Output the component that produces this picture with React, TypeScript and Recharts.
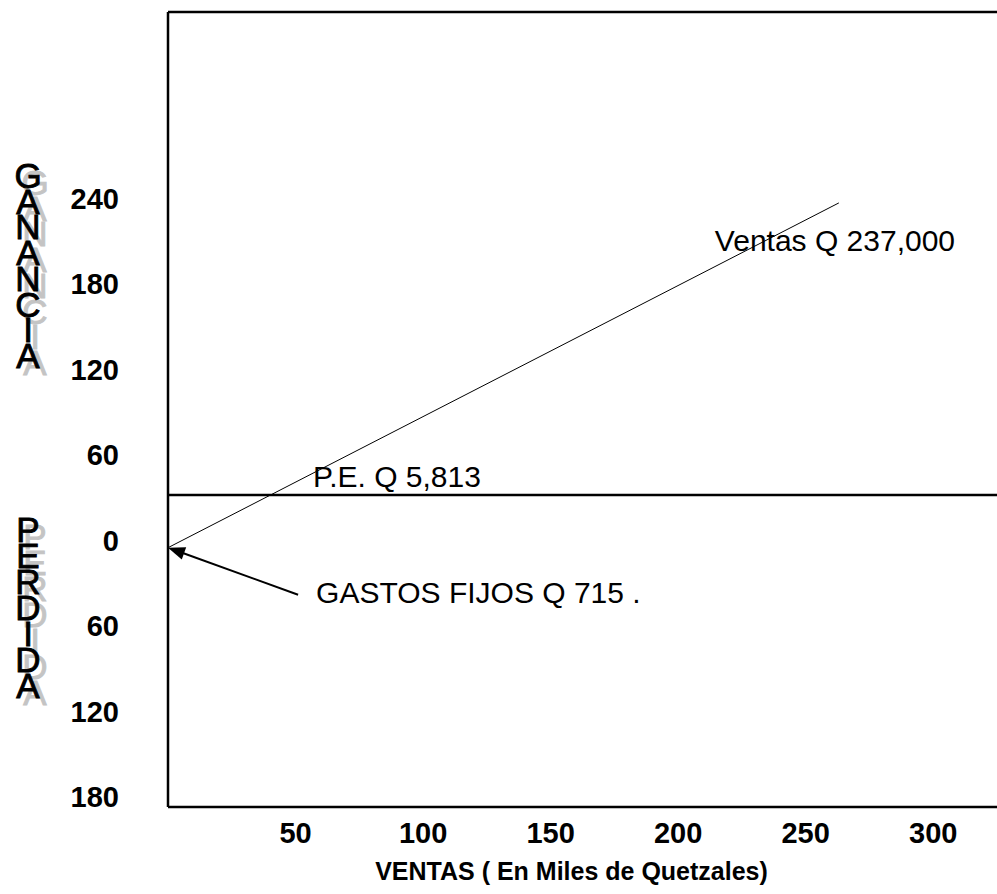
import React from 'react';
import { LineChart, Line, XAxis, YAxis, ReferenceLine, ReferenceDot, Label } from 'recharts';

const FONT = '"Liberation Sans", Arial, Helvetica, sans-serif';

// Sales line (thousands of quetzales): x = ventas, y = resultado
const ventasX = [0, 263];
const ventasY = [-5, 237];
const xTicks = [50, 100, 150, 200, 250, 300];
const yTicks = [240, 180, 120, 60, 0, -60, -120, -180];
const xDomain: [number, number] = [0, 325];
const yDomain: [number, number] = [-187, 371];
const peLevel = 32;
const gastosFrom = { x: 51, y: -38 };
const gastosTo = { x: 0, y: -5 };

const peText = 'P.E. Q 5,813';
const ventasText = 'Ventas Q 237,000';
const gastosText = 'GASTOS FIJOS Q 715 .';
const gananciaWord = 'GANANCIA';
const perdidaWord = 'PERDIDA';
const xAxisTitle = 'VENTAS ( En Miles de Quetzales)';

const lineData = ventasX.map((v, i) => ({ ventas: v, resultado: ventasY[i] }));

const StackedWord = ({ word, x, y0, pitch }: { word: string; x: number; y0: number; pitch: number }) => {
  const letters = word.split('');
  const common = { fontFamily: FONT, fontSize: 35, fontWeight: 400, textAnchor: 'middle' as const };
  return (
    <g>
      {letters.map((ch, i) => (
        <text key={'s' + i} x={x + 7} y={y0 + i * pitch + 7} fill="#c4c4c4" stroke="#c4c4c4" strokeWidth={0.9} {...common}>{ch}</text>
      ))}
      {letters.map((ch, i) => (
        <text key={'b' + i} x={x} y={y0 + i * pitch} fill="#000" stroke="#000" strokeWidth={0.9} {...common}>{ch}</text>
      ))}
    </g>
  );
};

const YTitle = (props: any) => {
  const vb = props.viewBox || { x: 0, y: 12 };
  return (
    <g>
      <StackedWord word={gananciaWord} x={vb.x + 28} y0={vb.y + 176} pitch={25.7} />
      <StackedWord word={perdidaWord} x={vb.x + 28} y0={vb.y + 530} pitch={26} />
    </g>
  );
};

const XTitle = (props: any) => {
  const vb = props.viewBox || { x: 168, y: 807, width: 829 };
  return (
    <text x={vb.x + vb.width / 2 - 11} y={vb.y + 73} textAnchor="middle" fontFamily={FONT} fontSize={25} fontWeight={700} fill="#000">
      {xAxisTitle}
    </text>
  );
};

const PELabel = (props: any) => {
  const vb = props.viewBox || { x: 168, y: 495 };
  return (
    <text x={vb.x + 145} y={vb.y - 8} fontFamily={FONT} fontSize={30} fill="#000">{peText}</text>
  );
};

const ArrowShape = (props: any) => {
  const { x1, y1, x2, y2 } = props;
  const tipFirst = x1 < x2;
  const tx = tipFirst ? x1 : x2, ty = tipFirst ? y1 : y2;
  const sx = tipFirst ? x2 : x1, sy = tipFirst ? y2 : y1;
  const dx = tx - sx, dy = ty - sy;
  const len = Math.hypot(dx, dy) || 1;
  const ux = dx / len, uy = dy / len;
  const L = 17, W = 6.5;
  const bx = tx - ux * L, by = ty - uy * L;
  const pts = `${tx},${ty} ${bx - uy * W},${by + ux * W} ${bx + uy * W},${by - ux * W}`;
  return (
    <g>
      <line x1={sx} y1={sy} x2={bx + ux * 2} y2={by + uy * 2} stroke="#000" strokeWidth={2} />
      <polygon points={pts} fill="#000" />
      <text x={sx + 18} y={sy + 8} fontFamily={FONT} fontSize={30} fill="#000">{gastosText}</text>
    </g>
  );
};

const VentasText = (props: any) => {
  const { cx, cy } = props;
  return (
    <text x={cx - 124} y={cy + 48} fontFamily={FONT} fontSize={30} fill="#000">{ventasText}</text>
  );
};

const tickStyle = { fontFamily: FONT, fontSize: 29, fontWeight: 700, fill: '#000' };

export default function App() {
  return (
    <div style={{ position: 'absolute', left: 0, top: 0, width: 997, height: 894, background: '#fff' }}>
      <LineChart width={997} height={894} data={lineData} margin={{ top: 12, right: 0, bottom: 0, left: 0 }}>
        <XAxis
          dataKey="ventas"
          type="number"
          domain={xDomain}
          allowDataOverflow
          ticks={xTicks}
          interval={0}
          height={87}
          tickSize={0}
          tickMargin={15}
          tickLine={false}
          axisLine={{ stroke: '#000', strokeWidth: 2.5 }}
          tick={tickStyle}
        >
          <Label content={<XTitle />} />
        </XAxis>
        <YAxis
          type="number"
          domain={yDomain}
          allowDataOverflow
          ticks={yTicks}
          interval={0}
          width={168}
          tickSize={0}
          tickMargin={49}
          tickLine={false}
          tickFormatter={(v: number) => String(Math.abs(v))}
          axisLine={{ stroke: '#000', strokeWidth: 2.5 }}
          tick={tickStyle}
        >
          <Label content={<YTitle />} />
        </YAxis>
        <ReferenceLine y={yDomain[1]} stroke="#000" strokeWidth={2.5} ifOverflow="visible" />
        <ReferenceLine y={peLevel} stroke="#000" strokeWidth={2.5} ifOverflow="extendDomain">
          <Label content={<PELabel />} />
        </ReferenceLine>
        <Line
          dataKey="resultado"
          stroke="#000"
          strokeWidth={1}
          dot={false}
          activeDot={false}
          isAnimationActive={false}
        />
        <ReferenceLine
          segment={[gastosFrom, gastosTo]}
          shape={ArrowShape}
          ifOverflow="visible"
        />
        <ReferenceDot
          x={ventasX[ventasX.length - 1]}
          y={ventasY[ventasY.length - 1]}
          r={0}
          shape={VentasText}
          ifOverflow="visible"
        />
      </LineChart>
    </div>
  );
}
